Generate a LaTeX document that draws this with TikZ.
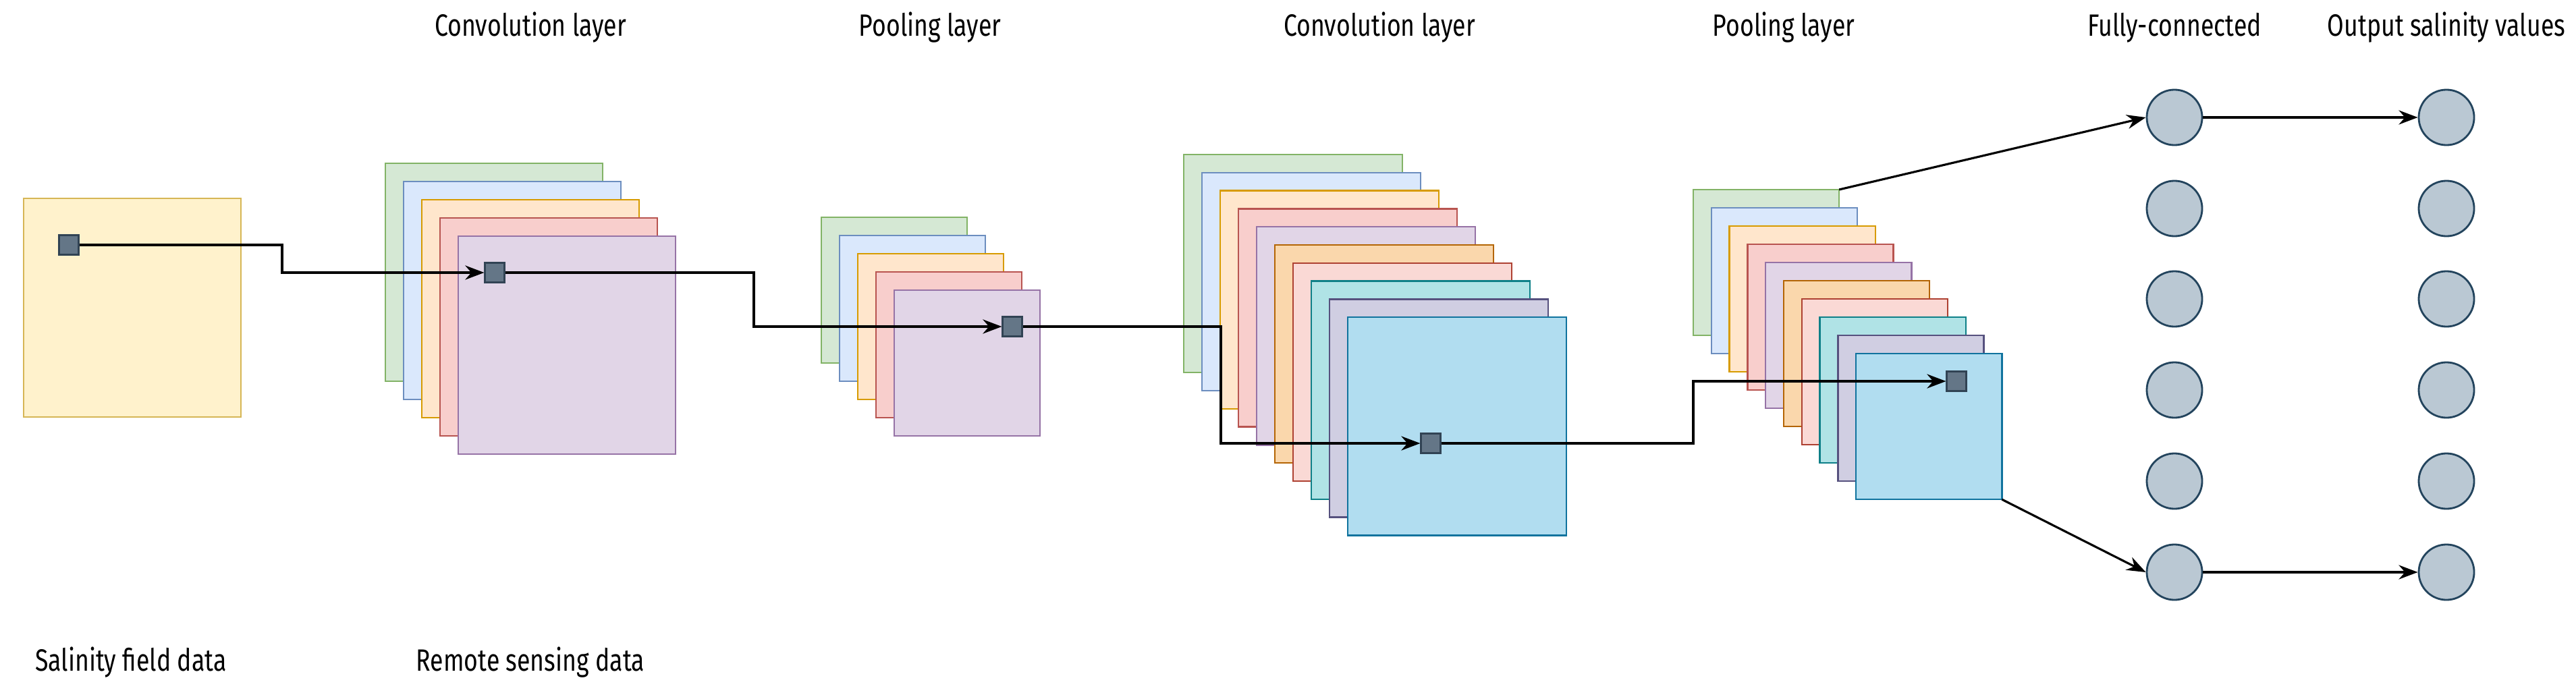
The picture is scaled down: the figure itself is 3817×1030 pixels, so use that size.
\documentclass[tikz,border=0pt]{standalone}
\usepackage{fontspec}
\setmainfont{Fira Sans}[FakeStretch=0.78]
\usetikzlibrary{arrows.meta}
\definecolor{gF}{HTML}{D5E8D4}\definecolor{gD}{HTML}{82B366}
\definecolor{bF}{HTML}{DAE8FC}\definecolor{bD}{HTML}{6C8EBF}
\definecolor{oF}{HTML}{FFE6CC}\definecolor{oD}{HTML}{D79B00}
\definecolor{rF}{HTML}{F8CECC}\definecolor{rD}{HTML}{B85450}
\definecolor{pF}{HTML}{E1D5E7}\definecolor{pD}{HTML}{9673A6}
\definecolor{o2F}{HTML}{FAD7AC}\definecolor{o2D}{HTML}{B46504}
\definecolor{r2F}{HTML}{FAD9D5}\definecolor{r2D}{HTML}{AE4132}
\definecolor{tF}{HTML}{B0E3E6}\definecolor{tD}{HTML}{0E8088}
\definecolor{lF}{HTML}{D0CEE2}\definecolor{lD}{HTML}{56517E}
\definecolor{cF}{HTML}{B1DDF0}\definecolor{cD}{HTML}{10739E}
\definecolor{yF}{HTML}{FFF2CC}\definecolor{yD}{HTML}{D6B656}
\definecolor{sqF}{HTML}{647687}\definecolor{sqD}{HTML}{314354}
\definecolor{ciF}{HTML}{BAC8D3}\definecolor{ciD}{HTML}{23445D}
\begin{document}
\begin{tikzpicture}[x=0.01cm,y=-0.01cm,
  fm/.style={draw=#1D,fill=#1F,line width=0.7pt,inner sep=0,outer sep=0,anchor=north west},
  sq/.style={draw=sqD,fill=sqF,line width=0.6pt,minimum size=0.29cm,inner sep=0},
  neu/.style={circle,draw=ciD,fill=ciF,line width=0.8pt,minimum size=0.82cm,inner sep=0},
  lbl/.style={font=\fontsize{13}{15}\selectfont,inner sep=0},
  con/.style={line width=0.9pt,-{Stealth[length=8pt,width=6pt]}}]
\useasboundingbox (0,0) rectangle (3817,1030);
% input
\node[fm=y,minimum width=3.22cm,minimum height=3.24cm] (in) at (35,294) {};
% conv1
\foreach \c [count=\i from 0] in {g,b,o,r,p}
  \node[fm=\c,minimum width=3.22cm,minimum height=3.23cm] (ca\i) at (571+27*\i,242+27*\i) {};
% pool1
\foreach \c [count=\i from 0] in {g,b,o,r,p}
  \node[fm=\c,minimum width=2.16cm,minimum height=2.16cm] (pa\i) at (1217+27*\i,322+27*\i) {};
% conv2
\foreach \c [count=\i from 0] in {g,b,o,r,p,o2,r2,t,l,c}
  \node[fm=\c,minimum width=3.24cm,minimum height=3.23cm] (cb\i) at (1754+27*\i,229+26.8*\i) {};
% pool2
\foreach \c [count=\i from 0] in {g,b,o,r,p,o2,r2,t,l,c}
  \node[fm=\c,minimum width=2.16cm,minimum height=2.16cm] (pb\i) at (2509+26.8*\i,281+27*\i) {};
% squares
\node[sq] (s0) at (102,363) {};
\node[sq] (s1) at (733,404) {};
\node[sq] (s2) at (1500,484) {};
\node[sq] (s3) at (2120,657) {};
\node[sq] (s4) at (2899,565) {};
% neurons
\foreach \y [count=\i] in {174,309,443,578,713,848}{
  \node[neu] (f\i) at (3222,\y) {};
  \node[neu] (o\i) at (3625,\y) {};}
% connectors
\draw[con] (s0.east) -| (418,404) -- (s1.west);
\draw[con] (s1.east) -| (1117,484) -- (s2.west);
\draw[con] (s2.east) -| (1809,657) -- (s3.west);
\draw[con] (s3.east) -| (2509,565) -- (s4.west);
\draw[con] (pb0.north east) -- (f1.west);
\draw[con] (pb9.south east) -- (f6.west);
\draw[con] (f1) -- (o1);
\draw[con] (f6) -- (o6);
% labels
\node[lbl] (t1) at (786,41) {Convolution layer};
\node[lbl] (t2) at (1378,41) {Pooling layer};
\node[lbl] (t3) at (2044,41) {Convolution layer};
\node[lbl] (t4) at (2643,41) {Pooling layer};
\node[lbl] (t5) at (3222,41) {Fully-connected};
\node[lbl] (t6) at (3625,41) {Output salinity values};
\node[lbl] (b1) at (194,982) {Salinity field data};
\node[lbl] (b2) at (786,982) {Remote sensing data};
\end{tikzpicture}
\end{document}
